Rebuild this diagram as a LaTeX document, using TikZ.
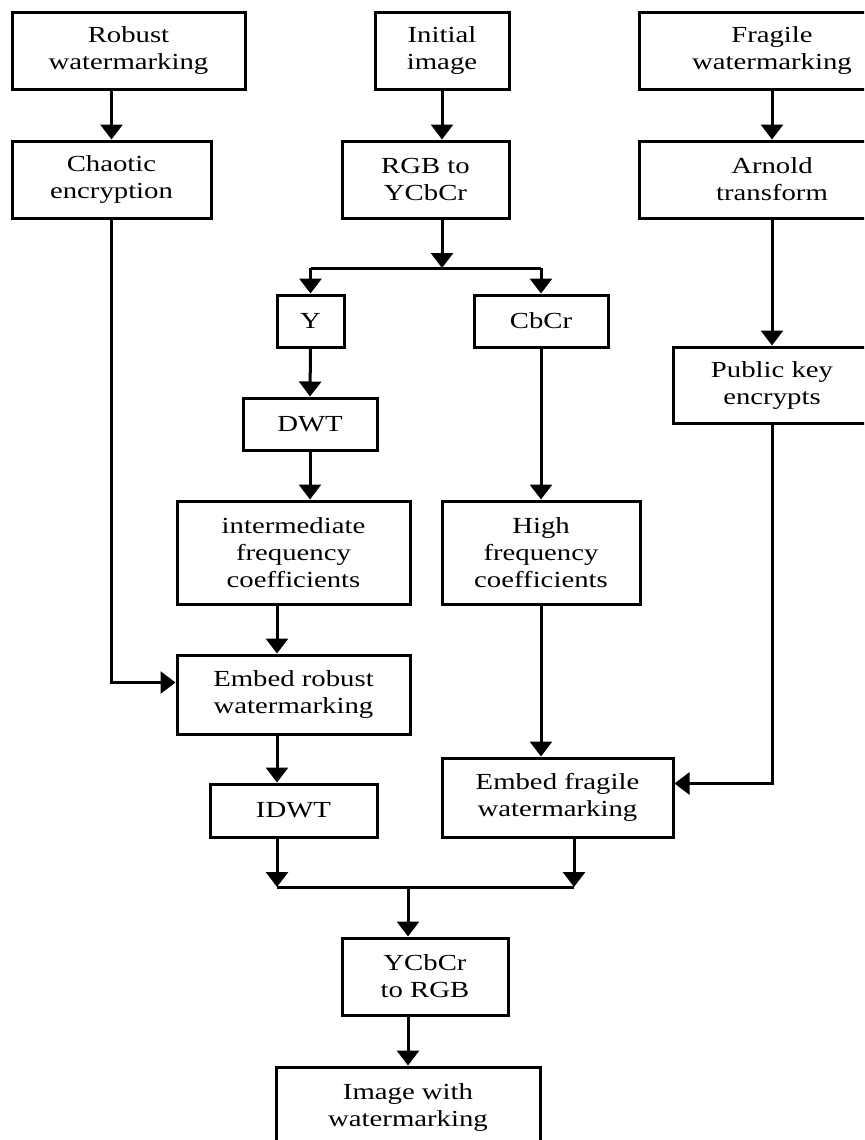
\documentclass[tikz,border=0pt]{standalone}
\usepackage{fontspec}
\setmainfont{Liberation Serif}[FakeStretch=1.25]
\usetikzlibrary{arrows.meta,calc}

\begin{document}
\begin{tikzpicture}[
    x=0.5pt, y=-0.5pt,
    box/.style={draw, line width=1.5pt, align=center, inner sep=0pt,
      font=\fontsize{11.5}{13.5}\selectfont},
    conn/.style={line width=1.5pt, -{Triangle[width=11pt,length=7.5pt]}},
    wire/.style={line width=1.5pt}
  ]
  \useasboundingbox (0,0) rectangle (864,1140);
  \clip (0,0) rectangle (864,1140);
  \fill[white] (0,0) rectangle (864,1140);

  % sources
  \node[box, minimum width=116.5pt, minimum height=38.5pt] (robust) at (128.5,50.5) {Robust\\watermarking};
  \node[box, minimum width=67pt, minimum height=38.5pt] (initial) at (442,50.5) {Initial\\image};
  \node[box, minimum width=133pt, minimum height=38.5pt] (fragile) at (772,50.5) {Fragile\\watermarking};

  \node[box, minimum width=99.5pt, minimum height=38.5pt] (chaotic) at (111.5,179.5) {Chaotic\\encryption};
  \node[box, minimum width=83.5pt, minimum height=38.5pt] (rgb) at (425.5,179.5) {RGB to\\YCbCr};
  \node[box, minimum width=133pt, minimum height=38.5pt] (arnold) at (772,179.5) {Arnold\\transform};

  % channels
  \node[box, minimum width=33.5pt, minimum height=26pt] (Y) at (310.5,321) {Y};
  \node[box, minimum width=67pt, minimum height=26pt] (cbcr) at (541,321) {CbCr};
  \node[box, minimum width=67pt, minimum height=26pt] (dwt) at (310,424) {DWT};
  \node[box, minimum width=99pt, minimum height=38pt] (pubkey) at (772,385) {Public key\\encrypts};

  \node[box, minimum width=116.5pt, minimum height=51.5pt] (inter) at (293.5,552.5) {intermediate\\frequency\\coefficients};
  \node[box, minimum width=99pt, minimum height=51.5pt] (high) at (541,552.5) {High\\frequency\\coefficients};

  % embedding
  \node[box, minimum width=116.5pt, minimum height=39.5pt] (embedr) at (293.5,694.5) {Embed robust\\watermarking};
  \node[box, minimum width=83.5pt, minimum height=26.5pt] (idwt) at (293.5,810.5) {IDWT};
  \node[box, minimum width=115.5pt, minimum height=39.5pt] (embedf) at (557.5,797.5) {Embed fragile\\watermarking};

  \node[box, minimum width=83pt, minimum height=38.5pt] (ycbcr) at (425,976.5) {YCbCr\\to RGB};
  \node[box, minimum width=132pt, minimum height=40pt] (image) at (408,1107) {Image with\\watermarking};

  % connectors
  \draw[conn] (chaotic.north |- robust.south) -- (chaotic.north);
  \draw[conn] (initial.south) -- (initial.south |- rgb.north);
  \draw[conn] (fragile.south) -- (arnold.north);

  \coordinate (split) at (442,268);
  \draw[conn] (rgb.south -| split) -- (split);
  \draw[wire] (Y.north |- split) -- (cbcr.north |- split);
  \draw[conn] (Y.north |- split) -- (Y.north);
  \draw[conn] (cbcr.north |- split) -- (cbcr.north);

  \draw[conn] (Y.south) -- (dwt.north);
  \draw[conn] (dwt.south) -- (dwt.south |- inter.north);
  \draw[conn] (cbcr.south) -- (high.north);
  \draw[conn] (arnold.south) -- (pubkey.north);

  \coordinate (robcol) at (277,0);
  \coordinate (fragcol) at (574,0);
  \draw[conn] (inter.south -| robcol) -- (embedr.north -| robcol);
  \draw[conn] (embedr.south -| robcol) -- (idwt.north -| robcol);
  \draw[conn] (chaotic.south) |- ($(embedr.west)+(0,-12)$);
  \draw[conn] (high.south) -- (high.south |- embedf.north);
  \draw[conn] (pubkey.south) |- ($(embedf.east)+(0,-14)$);

  \coordinate (merge) at (408,887);
  \draw[conn] (idwt.south -| robcol) -- (robcol |- merge);
  \draw[conn] (embedf.south -| fragcol) -- (fragcol |- merge);
  \draw[wire] (robcol |- merge) -- (fragcol |- merge);
  \draw[conn] (merge) -- (ycbcr.north -| merge);
  \draw[conn] (ycbcr.south -| merge) -- (image.north);
\end{tikzpicture}
\end{document}
